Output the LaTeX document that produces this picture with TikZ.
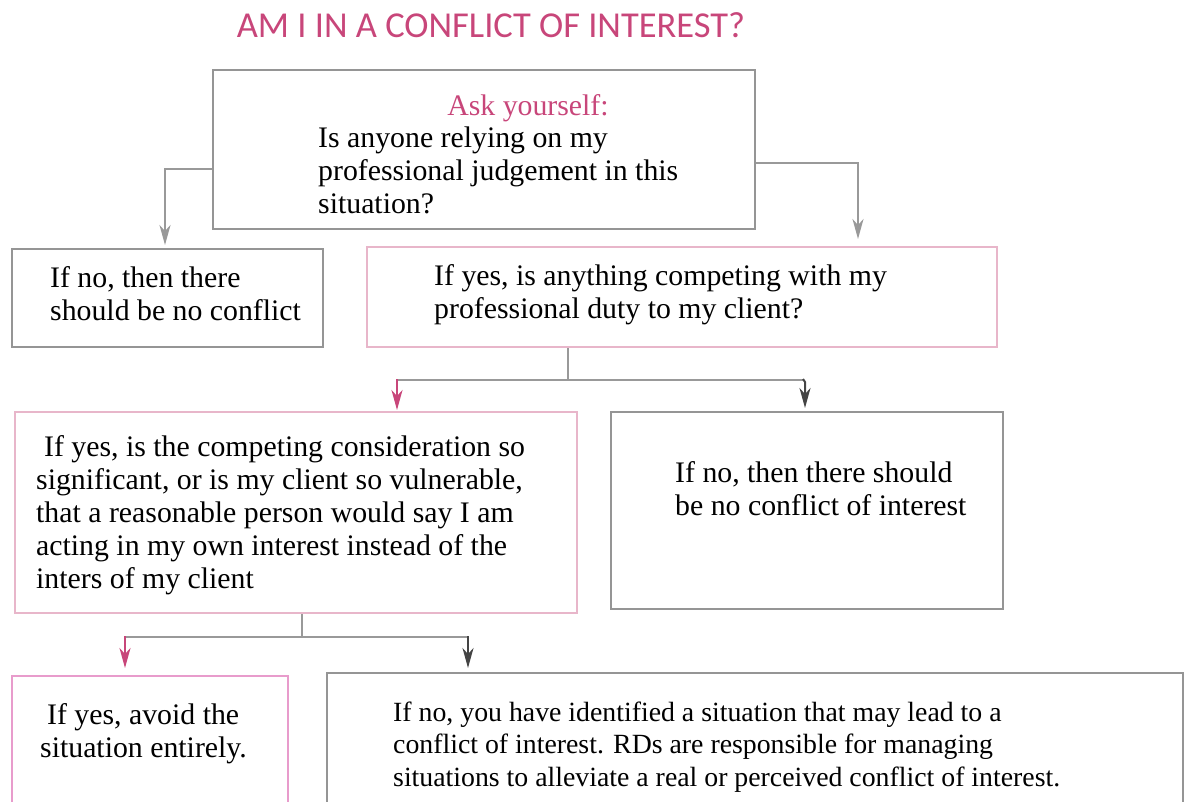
\documentclass[tikz,border=0pt]{standalone}
\usepackage{fontspec}
\setmainfont{Liberation Serif}
\newfontfamily\titlefont{Carlito}
\usetikzlibrary{arrows.meta}
\definecolor{linegray}{HTML}{999999}
\definecolor{boxgray}{HTML}{959595}
\definecolor{pinklight}{HTML}{E8B6CA}
\definecolor{pinkbright}{HTML}{E89CCC}
\definecolor{pinkdark}{HTML}{C8467A}
\definecolor{darkarrow}{HTML}{444444}
\tikzset{
  graybox/.style={draw=boxgray, line width=2pt},
  pinkbox/.style={draw=pinklight, line width=2pt},
  brightbox/.style={draw=pinkbright, line width=2pt},
  txt/.style={anchor=base west, align=left, inner sep=0pt, font=\fontsize{29.8}{33}\selectfont},
  conn/.style={draw=linegray, line width=2pt},
  tipgray/.style={-{Stealth[length=20pt,width=11pt,inset=6pt]}, draw=linegray, line width=2pt},
}
\begin{document}
\begin{tikzpicture}[x=1pt,y=-1pt]
\useasboundingbox (0,0) rectangle (1186,801);
% title
\node[anchor=base, inner sep=0pt, text=pinkdark, font=\titlefont\fontsize{36.5}{40}\selectfont] (title) at (491,37) {AM I IN A CONFLICT OF INTEREST?};
% boxes
\node[graybox, minimum width=542pt, minimum height=159pt, inner sep=0pt] (top) at (484,149.5) {};
\node[graybox, minimum width=311pt, minimum height=98pt, inner sep=0pt] (no1) at (167.5,298) {};
\node[pinkbox, minimum width=630pt, minimum height=100pt, inner sep=0pt] (yes1) at (682,297) {};
\node[pinkbox, minimum width=562pt, minimum height=201pt, inner sep=0pt] (yes2) at (296,512.5) {};
\node[graybox, minimum width=392pt, minimum height=197pt, inner sep=0pt] (no2) at (807,510.5) {};
\node[brightbox, minimum width=276pt, minimum height=140pt, inner sep=0pt] (yes3) at (150,746) {};
\node[graybox, minimum width=856pt, minimum height=140pt, inner sep=0pt] (no3) at (755,743) {};
% texts
\node[anchor=base, inner sep=0pt, text=pinkdark, font=\fontsize{29.8}{33}\selectfont] (ask) at (528,115) {Ask yourself:};
\node[txt] (toptxt) at (318,213) {Is anyone relying on my\\professional judgement in this\\situation?};
\node[txt] (no1txt) at (50,320) {If no, then there\\should be no conflict};
\node[txt] (yes1txt) at (434,318) {If yes, is anything competing with my\\professional duty to my client?};
\node[txt] (yes2txt) at (36,588) {\hspace{8pt}If yes, is the competing consideration so\\significant, or is my client so vulnerable,\\that a reasonable person would say I am\\acting in my own interest instead of the\\inters of my client};
\node[txt] (no2txt) at (675,515) {If no, then there should\\be no conflict of interest};
\node[txt] (yes3txt) at (40,757) {\hspace{7pt}If yes, avoid the\\situation entirely.};
\node[txt, font=\fontsize{27.8}{32.5}\selectfont] (no3txt) at (393,786) {If no, you have identified a situation that may lead to a\\conflict of interest. RDs are responsible for managing\\situations to alleviate a real or perceived conflict of interest.};
% connectors
\coordinate (tl) at (165,169);
\draw[tipgray] (top.west |- tl) -- (tl) -- (165,245);
\coordinate (tr) at (858,163);
\draw[tipgray] (top.east |- tr) -- (tr) -- (858,239);
\coordinate (j1) at (568,380);
\draw[conn] (yes1.south -| j1) -- (j1);
\draw[conn] (397,380) -- (803,380);
\draw[-{Stealth[length=20pt,width=11pt,inset=6pt]}, draw=pinkdark, line width=2pt] (397,379) -- (397,410);
\draw[-{Stealth[length=20pt,width=11pt,inset=6pt]}, draw=darkarrow, line width=2pt] (803,379) -- (805,382) -- (805,408);
\coordinate (j2) at (302,637);
\draw[conn] (yes2.south -| j2) -- (j2);
\draw[conn] (125,637) -- (468,637);
\draw[-{Stealth[length=20pt,width=11pt,inset=6pt]}, draw=pinkdark, line width=2pt] (125,636) -- (125,668);
\draw[-{Stealth[length=20pt,width=11pt,inset=6pt]}, draw=darkarrow, line width=2pt] (468,636) -- (468,668);
\end{tikzpicture}
\end{document}
